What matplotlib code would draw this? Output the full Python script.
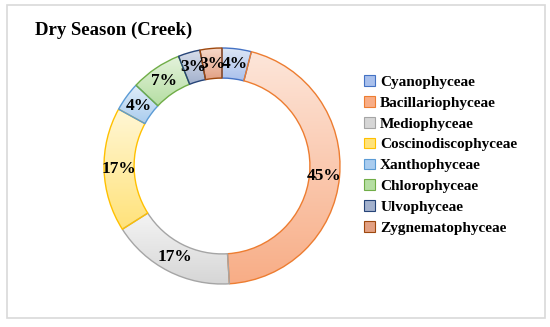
import numpy as np
import matplotlib.pyplot as plt
from matplotlib.patches import Wedge, Patch, Rectangle
from matplotlib.colors import LinearSegmentedColormap

# data
classes = ["Cyanophyceae", "Bacillariophyceae", "Mediophyceae", "Coscinodiscophyceae",
           "Xanthophyceae", "Chlorophyceae", "Ulvophyceae", "Zygnematophyceae"]
shares = [4, 45, 17, 17, 4, 7, 3, 3]

# light (top) -> dark (bottom) fill, plus edge colour
fill_light = ["#dde6f6", "#fde6da", "#f4f4f4", "#fff7d6", "#e0edf9", "#e4f2dc", "#d9dfeb", "#f7d9ca"]
fill_dark = ["#a9c0ec", "#f8ad86", "#d6d6d6", "#ffe27a", "#a9ccef", "#b5dea2", "#a3b1cd", "#e2a083"]
edges = ["#4472C4", "#ED7D31", "#A5A5A5", "#FFC000", "#5B9BD5", "#70AD47", "#264478", "#9E480E"]

plt.rcParams["font.family"] = ["Liberation Serif", "DejaVu Serif"]

W, H = 550, 327
fig = plt.figure(figsize=(W / 100, H / 100), dpi=100)

# outer frame
fig.patches.append(Rectangle((7 / W, 9 / H), 538 / W, 313 / H, transform=fig.transFigure,
                             fill=False, edgecolor="#d9d9d9", linewidth=1.2))

fig.text(35 / W, 1 - 30 / H, "Dry Season (Creek)", fontsize=13.5, fontweight="bold",
         va="center", ha="left")

cx, cy, R = 222, 166, 118
pad = 122
ax = fig.add_axes([(cx - pad) / W, (H - cy - pad) / H, 2 * pad / W, 2 * pad / H])
lim = pad / R
ax.set_xlim(-lim, lim)
ax.set_ylim(-lim, lim)
ax.set_aspect("equal")
ax.axis("off")

r_in = 0.745
total = sum(shares)
start = 90.0
for name, v, lo, hi, ec in zip(classes, shares, fill_light, fill_dark, edges):
    sweep = 360.0 * v / total
    t2 = start
    t1 = start - sweep
    w = Wedge((0, 0), 1.0, t1, t2, width=1 - r_in, facecolor="none", edgecolor=ec, linewidth=1.0, zorder=3)
    ax.add_patch(w)
    # vertical gradient over the wedge's extent
    th = np.radians(np.linspace(t1, t2, 100))
    ys = np.concatenate([np.sin(th), r_in * np.sin(th)])
    xs = np.concatenate([np.cos(th), r_in * np.cos(th)])
    cmap = LinearSegmentedColormap.from_list(name, [hi, lo])
    grad = np.linspace(0, 1, 256).reshape(-1, 1)
    im = ax.imshow(grad, cmap=cmap, origin="lower", aspect="auto",
                   extent=[xs.min(), xs.max(), ys.min(), ys.max()], zorder=2)
    clip = Wedge((0, 0), 1.0, t1, t2, width=1 - r_in, transform=ax.transData)
    im.set_clip_path(clip)
    mid = np.radians((t1 + t2) / 2)
    rl = 0.87
    ax.text(rl * np.cos(mid), rl * np.sin(mid), f"{v}%", ha="center", va="center",
            fontsize=12.5, fontweight="bold", zorder=4)
    start = t1

ax.set_xlim(-lim, lim)
ax.set_ylim(-lim, lim)

handles = [Patch(facecolor=hi, edgecolor=ec, linewidth=0.8) for hi, ec in zip(fill_dark, edges)]
fig.legend(handles, classes, loc="upper left", bbox_to_anchor=(358 / W, 1 - 69 / H),
           frameon=False, prop={"weight": "bold", "size": 11}, handlelength=0.7,
           handleheight=0.7, handletextpad=0.35, labelspacing=0.47, borderaxespad=0)

fig.savefig("out.png", dpi=100)
